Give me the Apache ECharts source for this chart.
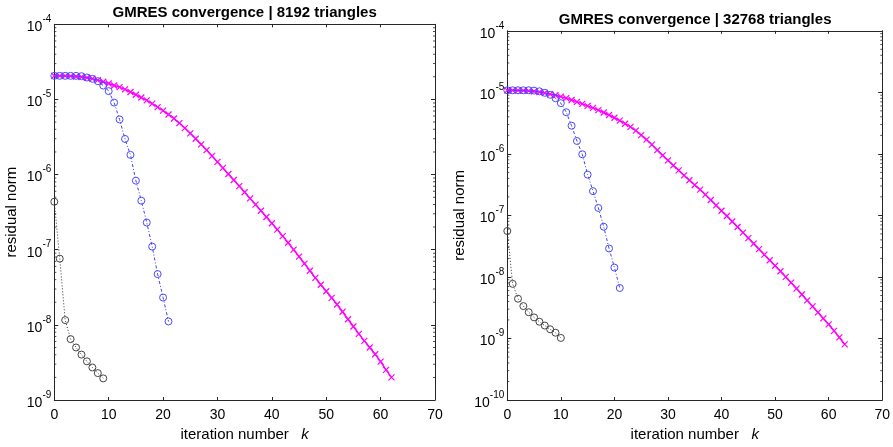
<!DOCTYPE html>
<html>
<head>
<meta charset="utf-8">
<script src="https://cdn.jsdelivr.net/npm/echarts@6/dist/echarts.min.js"></script>
<style>
html,body{margin:0;padding:0;background:#fff;}
#chart{width:893px;height:447px;}
</style>
</head>
<body>
<div id="chart"></div>
<script>
// residual norms per iteration k (index = k)
// --- 8192 triangles ---
var magentaL = [2.06e-5, 2.06e-5, 2.055e-5, 2.04e-5, 2.02e-5, 1.99e-5, 1.945e-5, 1.89e-5, 1.81e-5, 1.72e-5,
    1.63e-5, 1.535e-5, 1.46e-5, 1.36e-5, 1.255e-5, 1.155e-5, 1.06e-5, 9.7e-6, 8.8e-6, 7.9e-6,
    7.1e-6, 6.3e-6, 5.58e-6, 4.84e-6, 4.16e-6, 3.54e-6, 2.995e-6, 2.525e-6, 2.118e-6, 1.77e-6,
    1.475e-6, 1.226e-6, 1.018e-6, 8.46e-7, 7.03e-7, 5.82e-7, 4.82e-7, 3.99e-7, 3.3e-7, 2.725e-7,
    2.25e-7, 1.853e-7, 1.516e-7, 1.237e-7, 1.003e-7, 8.11e-8, 6.54e-8, 5.25e-8, 4.22e-8, 3.42e-8,
    2.8e-8, 2.29e-8, 1.864e-8, 1.493e-8, 1.189e-8, 9.5e-9, 7.59e-9, 6.12e-9, 4.99e-9, 4.06e-9,
    3.24e-9, 2.52e-9, 2.0e-9];
var blueL = [2.06e-5, 2.06e-5, 2.06e-5, 2.06e-5, 2.06e-5, 2.04e-5, 1.96e-5, 1.88e-5, 1.75e-5, 1.53e-5,
    1.29e-5, 9.08e-6, 5.42e-6, 2.98e-6, 1.83e-6, 8.3e-7, 4.49e-7, 2.3e-7, 1.1e-7, 4.74e-8,
    2.31e-8, 1.11e-8];
var blackL = [4.35e-7, 7.61e-8, 1.157e-8, 6.46e-9, 5.0e-9, 4.02e-9, 3.27e-9, 2.71e-9, 2.28e-9, 1.94e-9];

// --- 32768 triangles ---
var magentaR = [1.078e-5, 1.078e-5, 1.075e-5, 1.067e-5, 1.055e-5, 1.036e-5, 1.009e-5, 9.76e-6, 9.37e-6, 8.97e-6,
    8.51e-6, 8.03e-6, 7.51e-6, 7.0e-6, 6.5e-6, 6.01e-6, 5.58e-6, 5.15e-6, 4.71e-6, 4.28e-6,
    3.86e-6, 3.47e-6, 3.09e-6, 2.75e-6, 2.38e-6, 2.02e-6, 1.7e-6, 1.41e-6, 1.15e-6, 9.46e-7,
    7.83e-7, 6.51e-7, 5.39e-7, 4.48e-7, 3.72e-7, 3.12e-7, 2.63e-7, 2.17e-7, 1.78e-7, 1.456e-7,
    1.19e-7, 9.76e-8, 7.96e-8, 6.48e-8, 5.26e-8, 4.28e-8, 3.48e-8, 2.83e-8, 2.3e-8, 1.87e-8,
    1.52e-8, 1.235e-8, 1.0e-8, 8.07e-9, 6.46e-9, 5.18e-9, 4.15e-9, 3.32e-9, 2.66e-9, 2.12e-9,
    1.69e-9, 1.33e-9, 1.04e-9, 8.02e-10];
var blueR = [1.08e-5, 1.08e-5, 1.08e-5, 1.08e-5, 1.08e-5, 1.067e-5, 1.04e-5, 9.83e-6, 9.13e-6, 8.03e-6,
    6.67e-6, 4.75e-6, 2.87e-6, 1.62e-6, 9.85e-7, 4.6e-7, 2.48e-7, 1.32e-7, 6.55e-8, 2.9e-8,
    1.42e-8, 6.61e-9];
var blackR = [5.58e-8, 7.72e-9, 4.43e-9, 3.36e-9, 2.67e-9, 2.2e-9, 1.87e-9, 1.62e-9, 1.41e-9, 1.24e-9, 1.02e-9];

var xRange = [0, 70];
var xStep = 10;
var yRangeL = [1e-9, 1e-4];
var yRangeR = [1e-10, 1e-4];
var titles = ['GMRES convergence | 8192 triangles', 'GMRES convergence | 32768 triangles'];

var FONT = '"Liberation Sans", Arial, Helvetica, sans-serif';
var AXC = '#262626';
var CROSS = 'path://M0,0L10,10M0,10L10,0';

function toXY(arr){
    return arr.map(function(v, i){ return [i, v]; });
}
// log minor ticks 2..9 per decade
function minorTicks(range, x){
    var out = [];
    var e0 = Math.round(Math.log10(range[0])), e1 = Math.round(Math.log10(range[1]));
    for (var e = e0; e < e1; e++) {
        for (var m = 2; m <= 9; m++) out.push([x, m * Math.pow(10, e)]);
    }
    return out;
}

var grids = [
    {left: 54.3, top: 24.3, width: 380.7, height: 379},
    {left: 507.3, top: 30.8, width: 375.7, height: 373.5}
];
var panels = [
    {range: yRangeL, mag: magentaL, blue: blueL, black: blackL, nameGap: 35},
    {range: yRangeR, mag: magentaR, blue: blueR, black: blackR, nameGap: 40}
];

var xAxes = [], yAxes = [], series = [], titleOpt = [];

panels.forEach(function(p, g){
    var decades = Math.round(Math.log10(p.range[1]) - Math.log10(p.range[0]));
    titleOpt.push({
        text: titles[g],
        left: grids[g].left + grids[g].width / 2,
        top: grids[g].top - 11,
        textAlign: 'center',
        textVerticalAlign: 'middle',
        padding: 0,
        textStyle: {fontFamily: FONT, fontSize: 15, fontWeight: 'bold', color: '#000'}
    });
    // bottom and top x axes
    ['bottom', 'top'].forEach(function(pos){
        xAxes.push({
            type: 'value', gridIndex: g, position: pos,
            min: xRange[0], max: xRange[1], interval: xStep,
            name: pos === 'bottom' ? 'iteration number   {i|k}' : '',
            nameLocation: 'middle', nameGap: 27,
            nameTextStyle: {fontFamily: FONT, fontSize: 15, color: '#000',
                rich: {i: {fontFamily: FONT, fontSize: 15, fontStyle: 'italic', color: '#000'}}},
            axisLine: {show: true, onZero: false, lineStyle: {color: AXC, width: 1}},
            axisTick: {show: true, inside: true, length: 3, lineStyle: {color: AXC}},
            axisLabel: {show: pos === 'bottom', margin: 8, fontFamily: FONT, fontSize: 14, color: '#000'},
            splitLine: {show: false}
        });
    });
    // left and right y axes
    ['left', 'right'].forEach(function(pos){
        yAxes.push({
            type: 'log', logBase: 10, gridIndex: g, position: pos,
            min: p.range[0], max: p.range[1], splitNumber: decades,
            name: pos === 'left' ? 'residual norm' : '',
            nameLocation: 'middle', nameGap: p.nameGap,
            nameTextStyle: {fontFamily: FONT, fontSize: 15, color: '#000'},
            axisLine: {show: true, onZero: false, lineStyle: {color: AXC, width: 1}},
            axisTick: {show: true, inside: true, length: 4, lineStyle: {color: AXC}},
            axisLabel: {
                show: pos === 'left', margin: 3,
                formatter: function(v){
                    var e = Math.round(Math.log10(v));
                    return '{b|10}{s|' + e + '}';
                },
                rich: {
                    b: {fontFamily: FONT, fontSize: 14, color: '#000', lineHeight: 20, verticalAlign: 'bottom'},
                    s: {fontFamily: FONT, fontSize: 10, color: '#000', lineHeight: 10, verticalAlign: 'top'}
                }
            },
            splitLine: {show: false}
        });
    });
    var xi = g * 2, yi = g * 2;
    // minor ticks on both vertical edges
    series.push({
        type: 'scatter', xAxisIndex: xi, yAxisIndex: yi, silent: true, clip: false,
        symbol: 'rect', symbolSize: [2, 1], symbolOffset: [1, 0],
        itemStyle: {color: AXC}, data: minorTicks(p.range, xRange[0])
    });
    series.push({
        type: 'scatter', xAxisIndex: xi, yAxisIndex: yi, silent: true, clip: false,
        symbol: 'rect', symbolSize: [2, 1], symbolOffset: [-1, 0],
        itemStyle: {color: AXC}, data: minorTicks(p.range, xRange[1])
    });
    series.push({
        type: 'line', xAxisIndex: xi, yAxisIndex: yi, data: toXY(p.black),
        symbol: 'circle', symbolSize: 7, showAllSymbol: true,
        lineStyle: {color: '#333', width: 1, type: [1, 2]},
        itemStyle: {color: 'rgba(0,0,0,0)', borderColor: '#444', borderWidth: 1}
    });
    series.push({
        type: 'line', xAxisIndex: xi, yAxisIndex: yi, data: toXY(p.mag),
        symbol: CROSS, symbolSize: 6, showAllSymbol: true,
        lineStyle: {color: '#ff00ff', width: 1.5},
        itemStyle: {color: 'rgba(0,0,0,0)', borderColor: '#ff00ff', borderWidth: 1.2}
    });
    series.push({
        type: 'line', xAxisIndex: xi, yAxisIndex: yi, data: toXY(p.blue),
        symbol: 'circle', symbolSize: 7, showAllSymbol: true,
        lineStyle: {color: '#3d3dff', width: 1, type: [3, 2, 1, 2]},
        itemStyle: {color: 'rgba(0,0,0,0)', borderColor: '#4a4aff', borderWidth: 1}
    });
});

var myChart = echarts.init(document.getElementById('chart'));
myChart.setOption({
    animation: false,
    backgroundColor: '#fff',
    title: titleOpt,
    grid: grids,
    xAxis: xAxes,
    yAxis: yAxes,
    series: series
});
window.addEventListener('resize', function(){
    myChart.resize();
});
</script>
</body>
</html>
